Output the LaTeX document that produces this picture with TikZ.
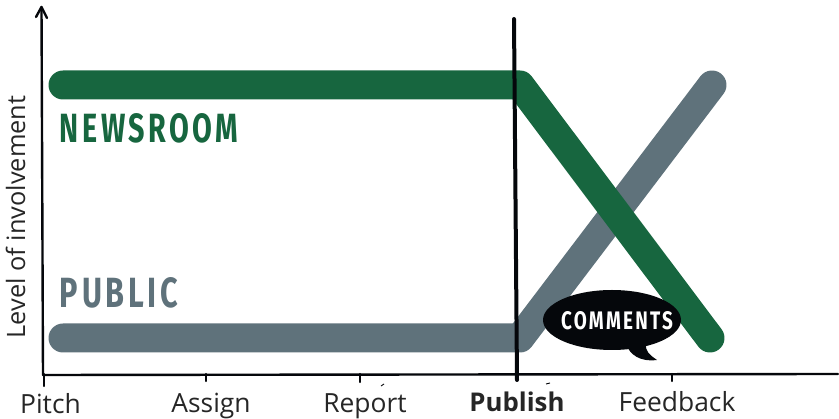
\documentclass[tikz,border=0pt]{standalone}
\usepackage{fontspec}
\usepackage{graphicx}
\setmainfont{Open Sans}
\newfontfamily\handfont[LetterSpace=12]{Fira Sans Bold}
\definecolor{newsgreen}{HTML}{17663F}
\definecolor{publicgray}{HTML}{5F727B}
\definecolor{inkblack}{HTML}{05070B}
\tikzset{
  band/.style={line width=29pt,line cap=round,line join=round},
  axisline/.style={inkblack,line width=2.4pt,line cap=round,line join=round},
  ticklabel/.style={font=\fontsize{26.4}{26.4}\selectfont,text=black!85,inner sep=0pt,anchor=base},
  hand/.style={inner sep=0pt,anchor=center}
}
\begin{document}
\begin{tikzpicture}[x=1pt,y=-1pt]
\useasboundingbox (0,0) rectangle (839,419);
% bands
\draw[band,publicgray] (63,338) -- (520,338) -- (712,85);
\draw[band,newsgreen] (63,85) -- (520,85) -- (710,338);
% axes
\coordinate (origin) at (43,375);
\coordinate (ytop) at (41.5,7);
\coordinate (xend) at (838,374);
\draw[axisline] (origin) -- (ytop);
\draw[axisline] (36,17) -- (ytop) -- (47,18);
\draw[axisline] (origin) -- (xend);
\draw[axisline] (44,374) -- (44,386);
\draw[axisline] (206,374) -- (206,381);
\draw[axisline] (360,374) -- (360,382);
\draw[axisline] (672,374) -- (672,381);
\draw[inkblack,line width=0.9pt] (381,386) -- (384,384);
\draw[inkblack,line width=0.9pt] (546,384) -- (550,383);
\draw[inkblack,line width=4pt,line cap=round] (514,19) -- (517,380);
% speech bubble
\fill[inkblack] (612,320) ellipse [x radius=69,y radius=30];
\fill[inkblack] (626,344) .. controls (630,355) and (640,362) .. (657,360)
  .. controls (650,355) and (645,352) .. (646,343) -- cycle;
% texts
\node[hand,text=newsgreen] (newsroom) at (149,128) {\resizebox{178pt}{29pt}{\handfont NEWSROOM}};
\node[hand,text=publicgray] (public) at (119,293) {\resizebox{118pt}{30pt}{\handfont PUBLIC}};
\node[hand,text=white] (comments) at (617,321) {\resizebox{112pt}{18pt}{\handfont COMMENTS}};
\node[ticklabel,font=\fontsize{25.3}{25.3}\selectfont,rotate=90,anchor=base] (ylabel) at (25,217) {Level of involvement};
\node[ticklabel] (pitch) at (50.5,413.5) {Pitch};
\node[ticklabel] (assign) at (211,413) {Assign};
\node[ticklabel] (report) at (365,413) {Report};
\node[ticklabel,font=\fontsize{25.8}{25.8}\selectfont\bfseries] (publish) at (517,412) {Publish};
\node[ticklabel] (feedback) at (677,412) {Feedback};
\end{tikzpicture}
\end{document}
